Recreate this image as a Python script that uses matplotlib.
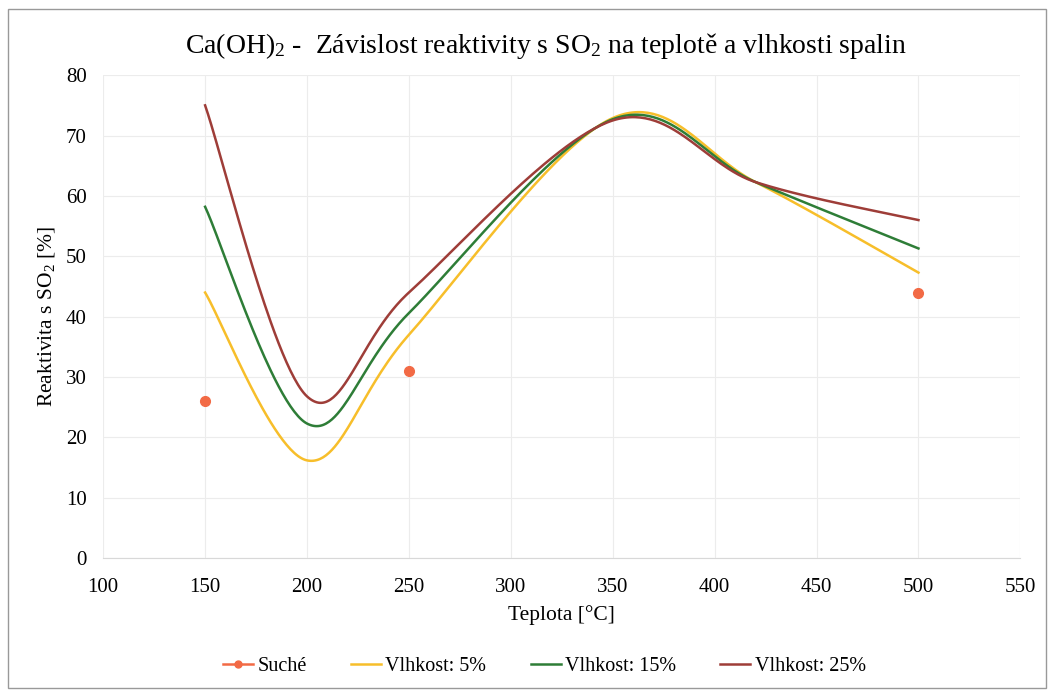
import matplotlib
matplotlib.use("Agg")
import matplotlib.pyplot as plt
import numpy as np

plt.rcParams['font.family'] = ['Liberation Serif', 'DejaVu Serif']
plt.rcParams['mathtext.fontset'] = 'custom'
plt.rcParams['mathtext.rm'] = 'Liberation Serif'
plt.rcParams['mathtext.it'] = 'Liberation Serif:italic'

# data
teplota = [150, 200, 250, 350, 420, 500]
vlhkost_5 = [44, 16.2, 37, 72.9, 62.3, 47.3]
vlhkost_15 = [58.2, 22.3, 40.6, 72.7, 62.3, 51.3]
vlhkost_25 = [75, 26.8, 44, 72.5, 62.3, 56]
suche_x = [150, 250, 500]
suche_y = [26, 31, 44]


def smooth(xs, ys, n=60):
    # Excel-style smoothed line (Bezier through the points)
    p = np.column_stack([xs, ys]).astype(float)
    p = np.vstack([p[0], p, p[-1]])
    t = np.linspace(0, 1, n)[:, None]
    out = []
    for i in range(1, len(p) - 2):
        p0, p3 = p[i], p[i + 1]
        c1 = p0 + (p[i + 1] - p[i - 1]) / 6
        c2 = p3 - (p[i + 2] - p[i]) / 6
        seg = (1 - t)**3 * p0 + 3 * (1 - t)**2 * t * c1 + 3 * (1 - t) * t**2 * c2 + t**3 * p3
        out.append(seg)
    out = np.vstack(out)
    return out[:, 0], out[:, 1]


fig = plt.figure(figsize=(10.53, 6.96), dpi=100)
ax = fig.add_axes([0.098, 0.198, 0.871, 0.694])

ax.plot(suche_x, suche_y, 'o', color='#F26A45', ms=7, label='Suché')
for ys, c, lab in [(vlhkost_5, '#F7BE2A', 'Vlhkost: 5%'),
                   (vlhkost_15, '#2E7D37', 'Vlhkost: 15%'),
                   (vlhkost_25, '#9E3D38', 'Vlhkost: 25%')]:
    sx, sy = smooth(teplota, ys)
    ax.plot(sx, sy, color=c, lw=1.8, label=lab)

ax.set_xlim(100, 550)
ax.set_ylim(0, 80)
ax.set_xticks(np.arange(100, 551, 50))
ax.set_yticks(np.arange(0, 81, 10))
ax.grid(True, color='#ececec', lw=0.8)
for s in ['top', 'right', 'left']:
    ax.spines[s].set_visible(False)
ax.spines['bottom'].set_color('#d8d8d8')
ax.tick_params(length=0, labelsize=15)
ax.tick_params(axis='x', pad=14)
ax.tick_params(axis='y', pad=12)

ax.set_xlabel('Teplota [°C]', fontsize=15.5, labelpad=6)
ax.set_ylabel('Reaktivita s SO$_2$ [%]', fontsize=15.5, labelpad=6)
fig.text(0.518, 0.934, 'Ca(OH)$_2$ -  Závislost reaktivity s SO$_2$ na teplotě a vlhkosti spalin',
         fontsize=20, ha='center', va='center')

h, l = ax.get_legend_handles_labels()
h[0] = plt.Line2D([], [], color='#F26A45', marker='o', ms=5, lw=1.8)
fig.legend(h, l, loc='lower center', ncol=4, frameon=False, fontsize=14.5,
           bbox_to_anchor=(0.517, 0.002), handlelength=1.5, handletextpad=0.2,
           columnspacing=2.2)

fig.patches.append(plt.Rectangle((0.008, 0.012), 0.985, 0.975, transform=fig.transFigure,
                                 fill=False, edgecolor='#999999', lw=1))

fig.savefig('out.png', dpi=100)
